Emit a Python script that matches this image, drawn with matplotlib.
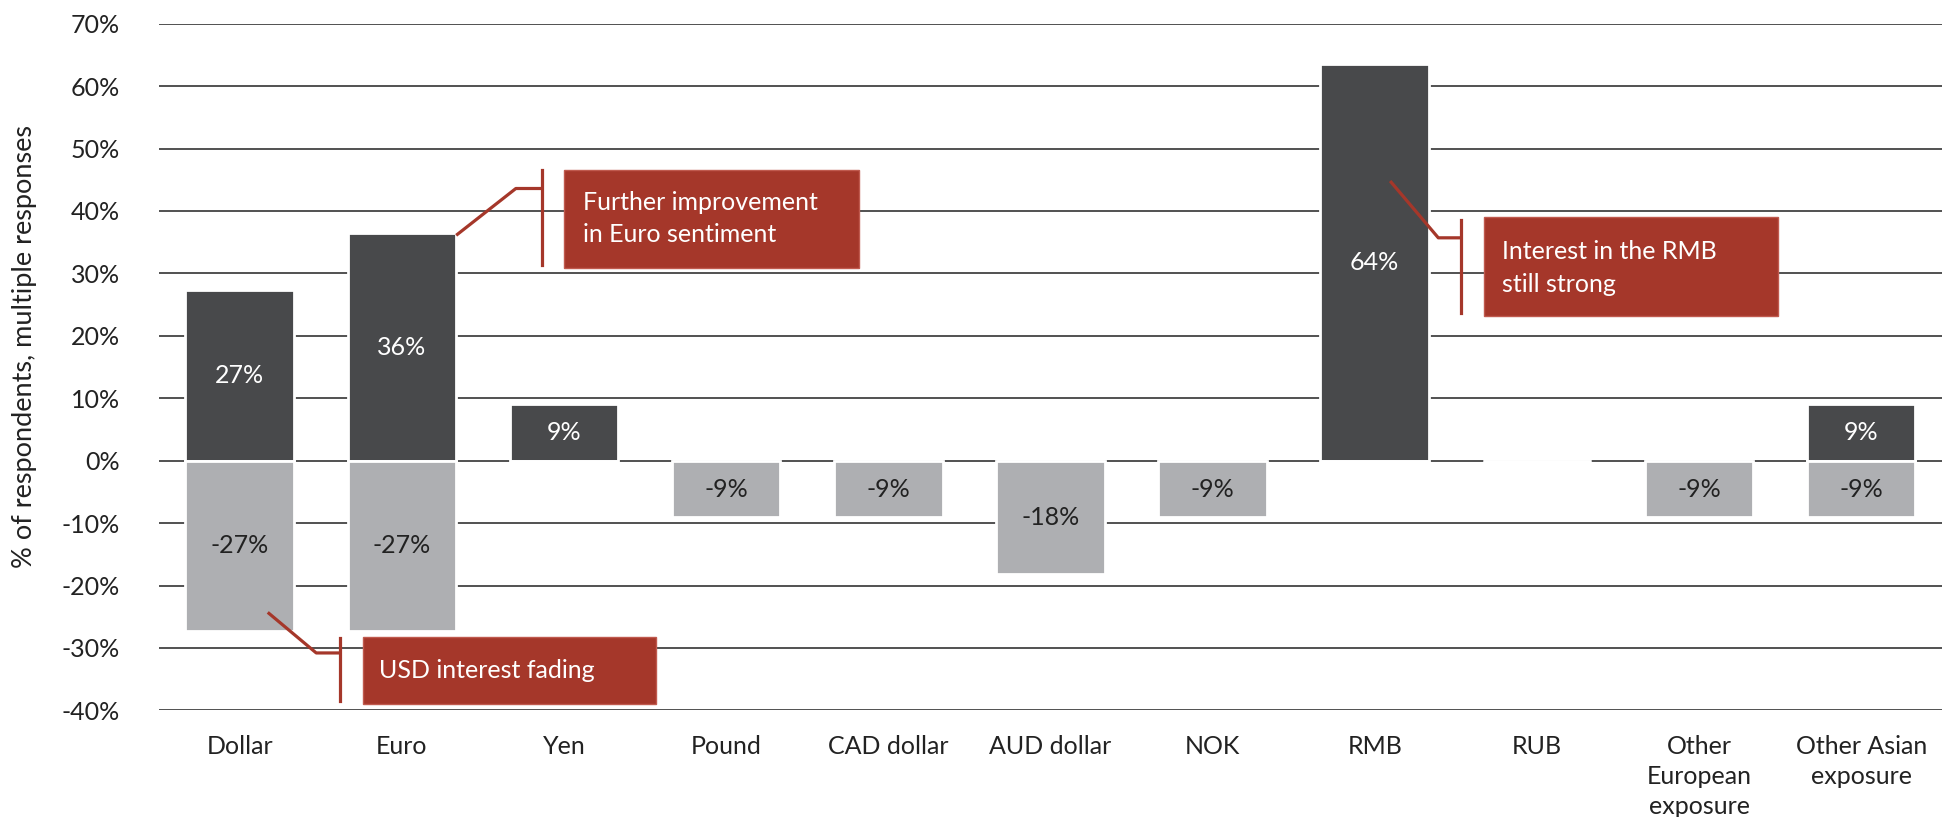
import matplotlib.pyplot as plt
import numpy as np

plt.rcParams['font.family'] = ['Lato', 'DejaVu Sans']

categories = ['Dollar', 'Euro', 'Yen', 'Pound', 'CAD dollar', 'AUD dollar', 'NOK',
              'RMB', 'RUB', 'Other\nEuropean\nexposure', 'Other Asian\nexposure']
positive = [27.3, 36.4, 9.1, 0, 0, 0, 0, 63.6, 0, 0, 9.1]
negative = [-27.3, -27.3, 0, -9.1, -9.1, -18.2, -9.1, 0, 0, -9.1, -9.1]

dark = '#48494b'
light = '#aeafb2'
red = '#a5372a'
fs = 18

fig = plt.figure(figsize=(19.44, 8.17), dpi=100)
ax = fig.add_axes([0.0816, 0.1305, 0.9175, 0.8405])

x = np.arange(len(categories))
ax.bar(x, positive, width=0.67, color=dark, edgecolor='white', linewidth=2, zorder=3)
ax.bar(x, negative, width=0.67, color=light, edgecolor='white', linewidth=2, zorder=3)

# value labels inside the bars
for i in range(len(categories)):
    if positive[i] != 0:
        ax.text(x[i], positive[i] / 2, '%d%%' % round(positive[i]), ha='center', va='center',
                color='white', fontsize=fs, zorder=4)
    if negative[i] != 0:
        ax.text(x[i], negative[i] / 2, '%d%%' % round(negative[i]), ha='center', va='center',
                color='#222222', fontsize=fs, zorder=4)

ax.set_xlim(-0.5, len(categories) - 0.5)
ax.set_ylim(-40, 70)
yt = np.arange(-40, 71, 10)
ax.set_yticks(yt)
ax.set_yticklabels(['%d%%' % v for v in yt], fontsize=fs, color='#222222')
ax.set_xticks(x)
ax.set_xticklabels(categories, fontsize=fs, color='#222222', linespacing=1.35, va='top')
ax.tick_params(axis='x', length=0, pad=18)
ax.tick_params(axis='y', length=0, pad=28)
ax.yaxis.grid(True, color='#222222', linewidth=1.1, zorder=0)
ax.set_axisbelow(True)
for s in ax.spines.values():
    s.set_visible(False)
ax.set_ylabel('% of respondents, multiple responses', fontsize=19.5, color='#222222',
              labelpad=10)
ax.yaxis.set_label_coords(-0.068, 0.53)

# annotation callouts
def callout(pts, bar_x, bar_y0, bar_y1, box, text, tx, ty):
    px, py = zip(*pts)
    ax.plot(px, py, color=red, linewidth=2.3, zorder=5, solid_capstyle='butt')
    ax.plot([bar_x, bar_x], [bar_y0, bar_y1], color=red, linewidth=2.3, zorder=5)
    x0, x1, y0, y1 = box
    ax.add_patch(plt.Rectangle((x0, y0), x1 - x0, y1 - y0, facecolor=red,
                               edgecolor='#c05a4e', linewidth=1, zorder=5))
    ax.text(tx, ty, text, color='white', fontsize=fs, ha='left', va='center',
            linespacing=1.5, zorder=6)

callout([(1.335, 36.1), (1.703, 43.6), (1.863, 43.6)], 1.863, 31.3, 46.6,
        (2.0, 3.82, 30.9, 46.6), 'Further improvement\nin Euro sentiment', 2.116, 38.8)
callout([(0.173, -24.3), (0.472, -30.8), (0.617, -30.8)], 0.617, -38.5, -28.4,
        (0.762, 2.566, -38.9, -28.2), 'USD interest fading', 0.862, -33.6)
callout([(7.095, 44.8), (7.392, 35.7), (7.531, 35.7)], 7.531, 23.6, 38.5,
        (7.676, 9.49, 23.2, 39.1), 'Interest in the RMB\nstill strong', 7.783, 30.9)

fig.savefig('out.png', dpi=100)
